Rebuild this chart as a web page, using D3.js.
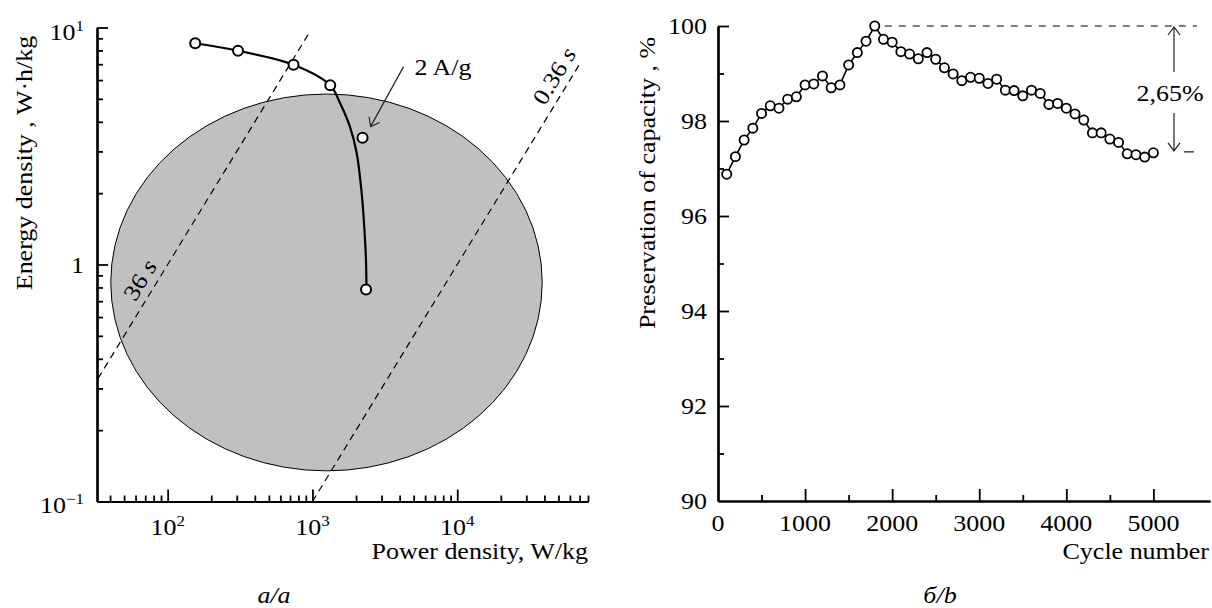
<!DOCTYPE html>
<html>
<head>
<meta charset="utf-8">
<script src="https://cdn.jsdelivr.net/npm/d3@7"></script>
<style>
  body { margin: 0; background: #fff; }
  svg text { font-family: "Liberation Serif", "Times New Roman", serif; fill: #000; }
</style>
</head>
<body>
<div id="chart"></div>
<script>
// ---- panel a: Ragone plot (log-log) ----
const powerPts  = [155, 306, 740, 1327, 2218, 2345];      // W/kg
const energyPts = [8.58, 7.98, 6.96, 5.70, 3.43, 0.785];  // W·h/kg
// smooth fitted curve
const fitPower  = [155, 306, 740, 1327, 1549, 1816, 2020, 2187, 2286, 2342, 2361];
const fitEnergy = [8.58, 7.98, 6.96, 5.70, 4.80, 3.81, 2.955, 2.003, 1.398, 1.045, 0.789];
// grey region: centre and half-size (in decades)
const regionCenter = [1250, 0.84];
const regionHalf = [1.49, 0.795];
// constant-time lines: E = P * t / 3600
const timeSeconds = [36, 0.36];
const timeLabels = ["36", "0.36"];
const timePowerRange = [[33, 970], [1000, 70000]];
const timeLabelPower = [89.4, 64900];
const xMajorA = [100, 1000, 10000];
const yMajorA = [0.1, 1, 10];

// ---- panel b: capacity retention ----
const cycles = [100, 200, 300, 400, 500, 600, 700, 800, 900, 1000,
  1100, 1200, 1300, 1400, 1500, 1600, 1700, 1800, 1900, 2000,
  2100, 2200, 2300, 2400, 2500, 2600, 2700, 2800, 2900, 3000,
  3100, 3200, 3300, 3400, 3500, 3600, 3700, 3800, 3900, 4000,
  4100, 4200, 4300, 4400, 4500, 4600, 4700, 4800, 4900, 5000];
const retention = [96.88, 97.25, 97.60, 97.85, 98.16, 98.32, 98.27, 98.46, 98.51, 98.76,
  98.78, 98.95, 98.70, 98.76, 99.18, 99.44, 99.68, 100.00, 99.72, 99.66,
  99.46, 99.41, 99.31, 99.44, 99.30, 99.12, 98.99, 98.85, 98.92, 98.90,
  98.79, 98.88, 98.65, 98.64, 98.53, 98.65, 98.58, 98.35, 98.37, 98.27,
  98.15, 98.02, 97.75, 97.75, 97.62, 97.55, 97.31, 97.29, 97.24, 97.33];
const yTicksB = [90, 92, 94, 96, 98, 100];
const xTicksB = [0, 1000, 2000, 3000, 4000, 5000];
const lossPct = 2.65;

const FS = 23;     // font size
const SX = 1.13;   // glyph stretch along the text direction

const svg = d3.select("#chart").append("svg")
  .attr("width", 1212)
  .attr("height", 608);

const defs = svg.append("defs");
defs.append("marker")
  .attr("id", "vhead")
  .attr("viewBox", "0 -7 10 14")
  .attr("refX", 9).attr("refY", 0)
  .attr("markerWidth", 10).attr("markerHeight", 14)
  .attr("markerUnits", "userSpaceOnUse")
  .attr("orient", "auto")
  .append("path")
  .attr("d", "M1,-6L9,0L1,6")
  .attr("fill", "none")
  .attr("stroke", "#222")
  .attr("stroke-width", 1.2);

// text helper (stretched along its own direction)
function label(g, x, y, str, opt = {}) {
  const t = g.append("text")
    .attr("transform", `translate(${x},${y}) rotate(${opt.rot || 0}) scale(${SX},1)`)
    .attr("text-anchor", opt.anchor || "start")
    .style("font-size", (opt.size || FS) + "px");
  if (opt.italic) t.style("font-style", "italic");
  if (str !== null) t.text(str);
  return t;
}
function powLabel(g, x, y, exp, anchor) {
  const t = label(g, x, y, null, { anchor: anchor });
  t.append("tspan").text("10");
  t.append("tspan").attr("dy", -9).style("font-size", "15px").text(exp);
  return t;
}

// ================= panel a =================
const xA = d3.scaleLog().domain([32.5, 80000]).range([97, 588]);
const yA = d3.scaleLog().domain([0.1, 10]).range([501.5, 27.5]);
const gA = svg.append("g");

// grey region
gA.append("ellipse")
  .attr("cx", xA(regionCenter[0]))
  .attr("cy", yA(regionCenter[1]))
  .attr("rx", xA(regionCenter[0] * Math.pow(10, regionHalf[0])) - xA(regionCenter[0]))
  .attr("ry", yA(regionCenter[1]) - yA(regionCenter[1] * Math.pow(10, regionHalf[1])))
  .attr("fill", "#c0c0c0")
  .attr("stroke", "#000")
  .attr("stroke-width", 1);

// constant-time dashed lines
const ang = -Math.atan((yA(1) - yA(10)) / (xA(10) - xA(1))) * 180 / Math.PI;
timeSeconds.forEach((t, i) => {
  const [p0, p1] = timePowerRange[i];
  gA.append("line")
    .attr("x1", xA(p0)).attr("y1", yA(p0 * t / 3600))
    .attr("x2", xA(p1)).attr("y2", yA(p1 * t / 3600))
    .attr("stroke", "#000")
    .attr("stroke-width", 1.2)
    .attr("stroke-dasharray", "7,5");
  const lp = timeLabelPower[i];
  const lab = label(gA, xA(lp) - 14, yA(lp * t / 3600) + 8, null, { rot: ang, anchor: "middle" });
  lab.append("tspan").text(timeLabels[i] + " ");
  lab.append("tspan").style("font-style", "italic").text("s");
});

// fitted curve
const fit = fitPower.map((p, i) => [p, fitEnergy[i]]);
gA.append("path")
  .datum(fit)
  .attr("fill", "none")
  .attr("stroke", "#000")
  .attr("stroke-width", 2.2)
  .attr("d", d3.line().x(d => xA(d[0])).y(d => yA(d[1])).curve(d3.curveCatmullRom.alpha(0.5)));

// points
gA.selectAll(".ptA")
  .data(powerPts.map((p, i) => [p, energyPts[i]]))
  .enter().append("circle")
  .attr("class", "ptA")
  .attr("cx", d => xA(d[0]))
  .attr("cy", d => yA(d[1]))
  .attr("r", 5)
  .attr("fill", "#fff")
  .attr("stroke", "#000")
  .attr("stroke-width", 2);

// 2 A/g arrow
{
  const tx = xA(powerPts[4]) + 8, ty = yA(energyPts[4]) - 11;
  gA.append("line")
    .attr("x1", tx + 33).attr("y1", ty - 60)
    .attr("x2", tx).attr("y2", ty)
    .attr("stroke", "#222").attr("stroke-width", 1.2)
    .attr("marker-end", "url(#vhead)");
  label(gA, tx + 44, ty - 52, "2 A/g");
}

// axes a
const minorX = [40, 50, 60, 70, 80, 90, 200, 300, 400, 500, 600, 700, 800, 900,
  2000, 3000, 4000, 5000, 6000, 7000, 8000, 9000, 20000, 30000, 40000, 50000, 60000, 70000, 80000];
const minorY = [0.2, 0.3, 0.4, 0.5, 0.6, 0.7, 0.8, 0.9, 2, 3, 4, 5, 6, 7, 8, 9];

function styleAxis(sel) {
  sel.select(".domain").attr("stroke-width", 2.2);
  sel.selectAll(".tick line").attr("stroke-width", 1.8);
  sel.selectAll(".tick text").remove();
}
gA.append("g").attr("transform", "translate(0,501.5)")
  .call(d3.axisBottom(xA).tickValues(minorX).tickSize(-6).tickSizeOuter(0))
  .call(styleAxis);
gA.append("g").attr("transform", "translate(0,501.5)")
  .call(d3.axisBottom(xA).tickValues(xMajorA).tickSize(-12).tickSizeOuter(0))
  .call(styleAxis);
gA.append("g").attr("transform", "translate(97,0)")
  .call(d3.axisLeft(yA).tickValues(minorY).tickSize(-6).tickSizeOuter(0))
  .call(styleAxis);
gA.append("g").attr("transform", "translate(97,0)")
  .call(d3.axisLeft(yA).tickValues(yMajorA.slice(1)).tickSize(-11).tickSizeOuter(0))
  .call(styleAxis);

xMajorA.forEach(v => powLabel(gA, xA(v), 535, Math.round(Math.log10(v)), "middle"));
powLabel(gA, 84, yA(0.1) + 11, "\u22121", "end");
label(gA, 84, yA(1) + 8, "1", { anchor: "end" });
powLabel(gA, 84, yA(10) + 12, "1", "end");

label(gA, 588, 559, "Power density, W/kg", { anchor: "end" });
label(gA, 32, 163, "Energy density , W\u00b7h/kg", { rot: -90, anchor: "middle" });
label(gA, 274, 603, "a/a", { anchor: "middle", italic: true });

// ================= panel b =================
const xB = d3.scaleLinear().domain([0, 5650]).range([718, 1210]);
const yB = d3.scaleLinear().domain([90, 100]).range([501, 26]);
const gB = svg.append("g");

gB.append("g").attr("transform", "translate(0,501)")
  .call(d3.axisBottom(xB).tickValues([500, 1500, 2500, 3500, 4500]).tickSize(-6).tickSizeOuter(0))
  .call(styleAxis);
gB.append("g").attr("transform", "translate(0,501)")
  .call(d3.axisBottom(xB).tickValues(xTicksB.slice(1)).tickSize(-12).tickSizeOuter(0))
  .call(styleAxis);
gB.append("g").attr("transform", "translate(718,0)")
  .call(d3.axisLeft(yB).tickValues([91, 93, 95, 97, 99]).tickSize(-6).tickSizeOuter(0))
  .call(styleAxis);
gB.append("g").attr("transform", "translate(718,0)")
  .call(d3.axisLeft(yB).tickValues(yTicksB.slice(1)).tickSize(-11).tickSizeOuter(0))
  .call(styleAxis);

xTicksB.forEach(v => label(gB, xB(v), 531, String(v), { anchor: "middle" }));
yTicksB.forEach(v => label(gB, 707, yB(v) + 8, String(v), { anchor: "end" }));

label(gB, 1209, 559, "Cycle number", { anchor: "end" });
label(gB, 655, 183, "Preservation of capacity , %", { rot: -90, anchor: "middle" });
label(gB, 940, 603, "\u0431/b", { anchor: "middle", italic: true });

// reference lines and 2,65 % annotation
const peakIdx = retention.indexOf(d3.max(retention));
const endVal = 100 - lossPct;
gB.append("line")
  .attr("x1", xB(cycles[peakIdx]) + 10).attr("x2", 1197)
  .attr("y1", yB(100)).attr("y2", yB(100))
  .attr("stroke", "#000").attr("stroke-width", 1.1).attr("stroke-dasharray", "7,7");
gB.append("line")
  .attr("x1", 1184).attr("x2", 1194)
  .attr("y1", yB(endVal)).attr("y2", yB(endVal))
  .attr("stroke", "#000").attr("stroke-width", 1.1);
const ax = 1174;
gB.append("line")
  .attr("x1", ax).attr("x2", ax).attr("y1", 72).attr("y2", yB(100) + 1)
  .attr("stroke", "#333").attr("stroke-width", 1.3).attr("marker-end", "url(#vhead)");
gB.append("line")
  .attr("x1", ax).attr("x2", ax).attr("y1", 113).attr("y2", yB(endVal) - 1)
  .attr("stroke", "#333").attr("stroke-width", 1.3).attr("marker-end", "url(#vhead)");
label(gB, ax - 4, 101, "2,65%", { anchor: "middle" });

// data line + markers
const ptsB = cycles.map((c, i) => [c, retention[i]]);
gB.append("path")
  .datum(ptsB)
  .attr("fill", "none")
  .attr("stroke", "#000")
  .attr("stroke-width", 1.6)
  .attr("d", d3.line().x(d => xB(d[0])).y(d => yB(d[1])));
gB.selectAll(".ptB")
  .data(ptsB)
  .enter().append("circle")
  .attr("class", "ptB")
  .attr("cx", d => xB(d[0]))
  .attr("cy", d => yB(d[1]))
  .attr("r", 4.6)
  .attr("fill", "#fff")
  .attr("stroke", "#000")
  .attr("stroke-width", 1.8);
</script>
</body>
</html>
